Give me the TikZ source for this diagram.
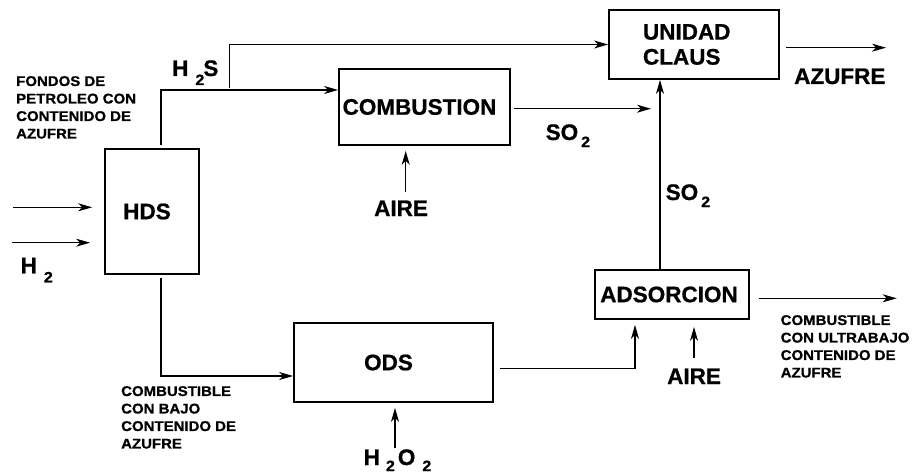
\documentclass[tikz,border=0pt]{standalone}
\usepackage{fontspec}
\setmainfont{Liberation Sans}[BoldFeatures={FakeBold=0.8}]
\newfontfamily\widef{Liberation Sans}[FakeStretch=1.07, BoldFeatures={FakeBold=0.8}]
\usetikzlibrary{arrows.meta}
\newcommand{\sbs}[2]{\hspace{#1}\raisebox{-#2}{\widef\fontsize{15}{15}\selectfont\bfseries 2}}
\begin{document}
\begin{tikzpicture}[x=1pt,y=-1pt,
  box/.style={draw, line width=1.8pt, inner sep=0pt, font=\fontsize{22.5}{25}\selectfont\bfseries},
  arr/.style={-{Stealth[length=14pt,width=8pt,inset=4pt]}, line width=1.4pt},
  big/.style={inner sep=0pt, font=\fontsize{22.5}{25}\selectfont\bfseries},
  small/.style={inner sep=0pt, align=left, font=\widef\fontsize{14}{17.5}\selectfont\bfseries}]
\useasboundingbox (0,0) rectangle (912,476);
% boxes
\node[box, minimum width=94pt, minimum height=125pt] (hds) at (152,211.5) {\hspace*{-10pt}HDS};
\node[box, minimum width=171pt, minimum height=76pt] (comb) at (424.5,107) {\hspace*{-10pt}COMBUSTION};
\node[box, minimum width=170pt, minimum height=69pt, text width=102pt, align=left] (claus) at (694,44.5) {UNIDAD\\CLAUS};
\node[box, minimum width=199pt, minimum height=79pt] (ods) at (393.5,362.5) {\hspace*{-10pt}ODS};
\node[box, minimum width=154pt, minimum height=49pt] (ads) at (672,294.5) {\hspace*{-6pt}ADSORCION};
% free ends
\coordinate (in1) at (13,207.3);
\coordinate (in2) at (12,242.7);
\coordinate (br) at (229.3,88);
\coordinate (so2end) at (651,108.7);
\coordinate (az) at (886,47.7);
\coordinate (a1) at (405.7,192);
\coordinate (oa) at (635,368.3);
\coordinate (a2) at (694,357.7);
\coordinate (out) at (896.7,298.3);
\coordinate (h2o2) at (395,448.3);
\coordinate (v) at ([xshift=-12pt]ads.north);
% connectors
\draw[arr, shorten >=12pt] (in1) -- (in1 -| hds.west);
\draw[arr, shorten >=14pt] (in2) -- (in2 -| hds.west);
\draw[arr] ([xshift=9pt,yshift=3pt]hds.north) |- ([yshift=17pt]comb.west);
\draw[arr] (br) |- (claus.west);
\draw[arr, shorten <=3pt] (comb.east |- so2end) -- (so2end);
\draw[arr] (v) -- (v |- claus.south);
\draw[arr, shorten <=6pt] (claus.east |- az) -- (az);
\draw[arr, shorten >=5pt] (a1) -- (a1 |- comb.south);
\draw[arr] ([xshift=9pt,yshift=-2.7pt]hds.south) |- ([yshift=-13.5pt]ods.west);
\draw[arr, shorten <=6pt, shorten >=5pt] (ods.east |- oa) -- (oa) -- (oa |- ads.south);
\draw[arr, shorten >=7pt] (a2) -- (a2 |- ads.south);
\draw[arr, shorten <=9pt] (ads.east |- out) -- (out);
\draw[arr, shorten >=5pt] (h2o2) -- (h2o2 |- ods.south);
% labels
\node[small, anchor=north west] (lfondos) at (16,76) {FONDOS DE\\PETROLEO CON\\CONTENIDO DE\\AZUFRE};
\node[big, anchor=base west] (lh2s) at (172,76) {H\sbs{7pt}{9pt}\hspace{-1pt}S};
\node[big, anchor=base west] (lh2) at (20.5,273.3) {H\sbs{7pt}{9pt}};
\node[big, anchor=base west] (laire1) at (374,216) {AIRE};
\node[big, anchor=base west] (lso2a) at (545.5,140) {SO\sbs{3pt}{7pt}};
\node[big, anchor=base west] (lso2b) at (665.5,200) {SO\sbs{3pt}{7pt}};
\node[big, anchor=base west] (lazufre) at (794,84) {AZUFRE};
\node[big, anchor=base west] (laire2) at (667,384) {AIRE};
\node[big, anchor=base west] (lh2o2) at (363.5,465) {H\sbs{6pt}{6pt}\hspace{3pt}O\sbs{7pt}{6pt}};
\node[small, anchor=north west] (lbajo) at (121,386) {COMBUSTIBLE\\CON BAJO\\CONTENIDO DE\\AZUFRE};
\node[small, anchor=north west] (lultra) at (780.5,315) {COMBUSTIBLE\\CON ULTRABAJO\\CONTENIDO DE\\AZUFRE};
\end{tikzpicture}
\end{document}
